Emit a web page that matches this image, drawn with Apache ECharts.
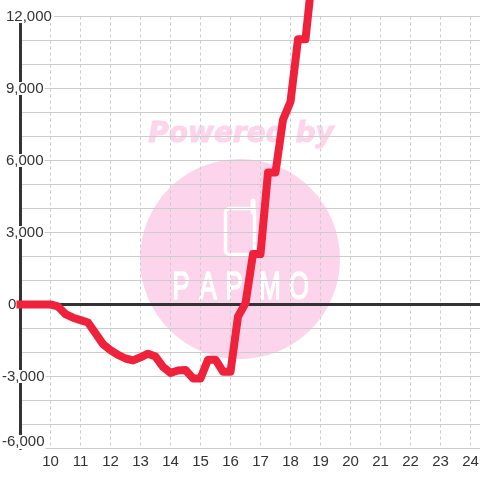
<!DOCTYPE html>
<html>
<head>
<meta charset="utf-8">
<style>
  html, body { margin: 0; padding: 0; background: #fff; }
  #chart { width: 480px; height: 480px; }
</style>
<script src="https://cdn.jsdelivr.net/npm/echarts@6/dist/echarts.min.js"></script>
</head>
<body>
<div id="chart"></div>
<script>
const hours = [9, 9.25, 9.5, 9.75, 10, 10.25, 10.5, 10.75, 11, 11.25, 11.5, 11.75, 12, 12.25, 12.5, 12.75, 13, 13.25, 13.5, 13.75, 14, 14.25, 14.5, 14.75, 15, 15.25, 15.5, 15.75, 16, 16.25, 16.5, 16.75, 17, 17.25, 17.5, 17.75, 18, 18.25, 18.5, 18.75];
const values = [0, 0, 0, 0, 0, -80, -400, -550, -650, -750, -1200, -1650, -1900, -2100, -2250, -2330, -2200, -2050, -2170, -2600, -2850, -2750, -2730, -3080, -3080, -2300, -2300, -2800, -2800, -500, 50, 2100, 2100, 5500, 5500, 7700, 8450, 11050, 11050, 14000];
const yTicks = [-6000, -3000, 0, 3000, 6000, 9000, 12000];
const yTickLabels = ['-6,000', '-3,000', '0', '3,000', '6,000', '9,000', '12,000'];
const xTicks = [10, 11, 12, 13, 14, 15, 16, 17, 18, 19, 20, 21, 22, 23, 24];
const xMin = 9;
const xMax = 24.317;

const TEXT = '#333';
const GRID = '#ccc';
const PINK = '#fcd5ec';
const FONT = '"Liberation Sans", Arial, sans-serif';

const chart = echarts.init(document.getElementById('chart'), null, { renderer: 'canvas' });

// watermark letters, each one squeezed to the logo width
const logoLetters = [['P', 181], ['A', 208], ['P', 234], ['M', 270], ['O', 299]].map(([ch, x]) => ({
  type: 'text',
  z: -1,
  x: x,
  y: 289,
  scaleX: 0.68,
  style: { text: ch, fill: '#fff', stroke: '#fff', lineWidth: 1.5, font: '38px ' + FONT, align: 'center', verticalAlign: 'middle' },
}));

const labelBox = { backgroundColor: '#fff', fontSize: 15, color: TEXT, fontFamily: FONT, height: 13, lineHeight: 13 };

chart.setOption({
  animation: false,
  backgroundColor: '#fff',
  graphic: [
    { type: 'circle', z: -2, shape: { cx: 240, cy: 259, r: 100 }, style: { fill: PINK } },
    {
      type: 'text', z: -2, x: 241, y: 135,
      style: { text: 'Powered by', fill: PINK, stroke: PINK, lineWidth: 1, font: 'italic bold 28px "DejaVu Sans"', align: 'center', verticalAlign: 'middle' },
    },
    { type: 'rect', z: -1, shape: { x: 225.5, y: 208.5, width: 29, height: 46, r: 4 }, style: { fill: 'none', stroke: '#fff', lineWidth: 3.5 } },
    { type: 'line', z: -1, shape: { x1: 253, y1: 201, x2: 253, y2: 212 }, style: { stroke: '#fff', lineWidth: 5, lineCap: 'round' } },
    ...logoLetters,
  ],
  grid: { left: 20.5, right: 0, top: 16.5, bottom: 31.5, outerBoundsMode: 'none' },
  xAxis: {
    type: 'value',
    min: xMin,
    max: xMax,
    interval: 1,
    axisLine: { show: false },
    axisTick: { show: false },
    axisLabel: {
      margin: 6,
      color: TEXT,
      fontSize: 15,
      fontFamily: FONT,
      customValues: xTicks,
    },
    splitLine: { show: true, showMinLine: false, showMaxLine: false, lineStyle: { color: GRID, width: 1, type: [3, 3] } },
  },
  yAxis: {
    type: 'value',
    min: -6000,
    max: 12000,
    interval: 1000,
    axisLine: { show: true, onZero: false, lineStyle: { color: TEXT, width: 3 } },
    axisTick: { show: false },
    axisLabel: {
      margin: 18.5,
      align: 'left',
      verticalAlignMinLabel: 'bottom',
      customValues: yTicks,
      formatter: (v) => {
        const s = yTickLabels[yTicks.indexOf(v)];
        const style = v === yTicks[0] ? 'low' : v < 0 ? 'neg' : v === 0 ? 'zero' : v >= 10000 ? 'big' : 'pos';
        return `{${style}|${s}}`;
      },
      rich: {
        low: { ...labelBox, padding: [0, 1, 1, 0] },
        neg: { ...labelBox, padding: [0, 1, 0, 0] },
        zero: { ...labelBox, padding: [0, 1, 0, 6] },
        pos: { ...labelBox, padding: [0, 1, 0, 4] },
        big: { ...labelBox, padding: [0, 2, 0, 4] },
      },
    },
    splitLine: { show: true, lineStyle: { color: GRID, width: 1 } },
  },
  series: [
    {
      // the heavy zero line
      type: 'line',
      data: [[xMin, 0], [xMax, 0]],
      showSymbol: false,
      silent: true,
      lineStyle: { color: TEXT, width: 3 },
      z: 3,
    },
    {
      type: 'line',
      data: hours.map((h, i) => [h, values[i]]),
      showSymbol: false,
      clip: false,
      lineStyle: { color: '#f0213a', width: 8, join: 'round', cap: 'square' },
      z: 5,
    },
  ],
});
window.addEventListener('resize', chart.resize);
</script>
</body>
</html>
